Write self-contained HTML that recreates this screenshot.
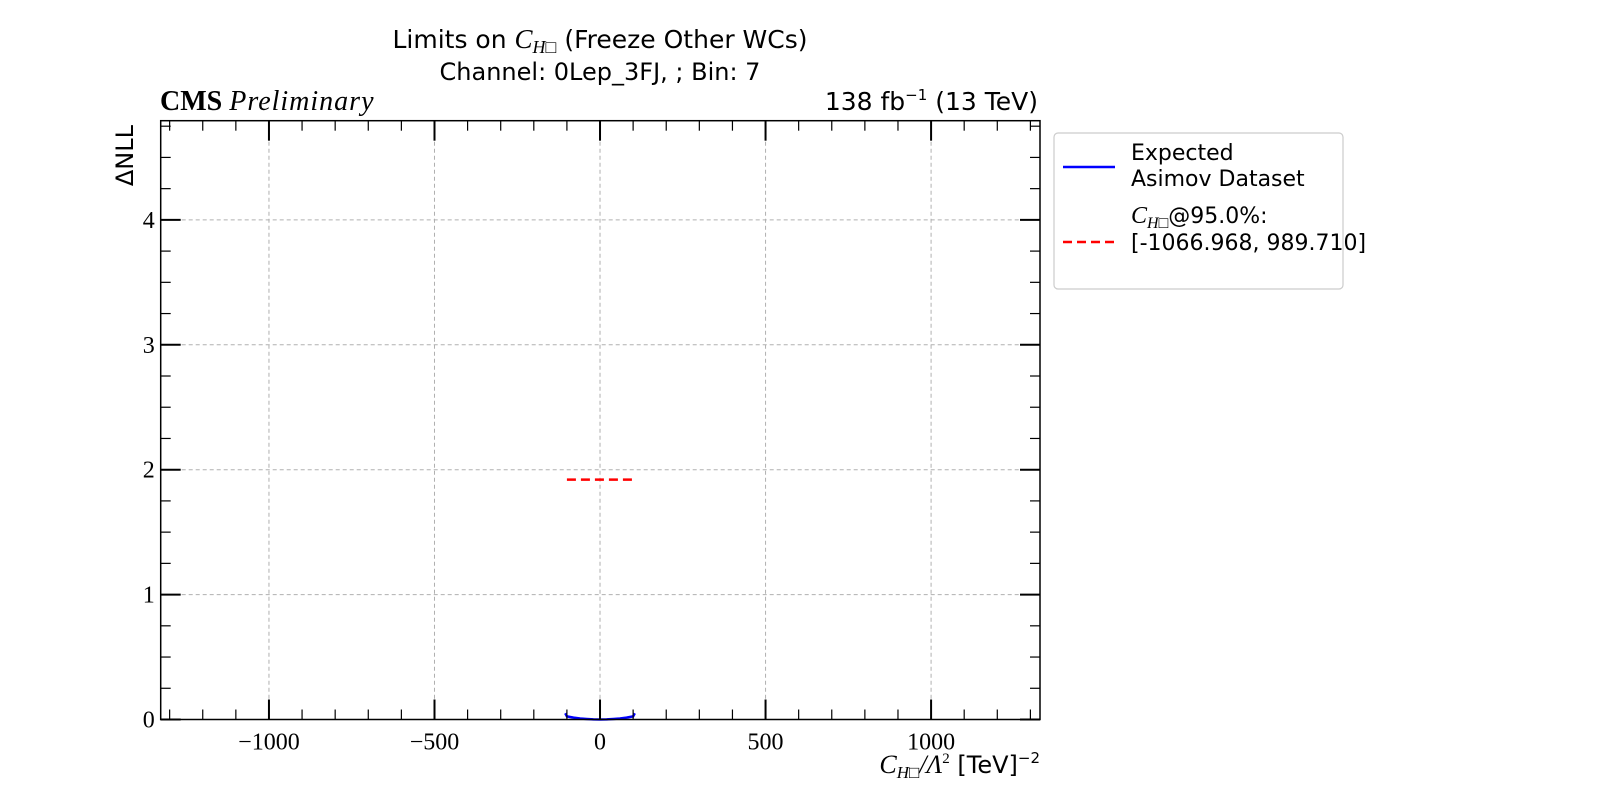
<!DOCTYPE html>
<html><head><meta charset="utf-8"><style>
html,body{margin:0;padding:0;background:#fff;}
svg{display:block;}
.sans{font-family:"DejaVu Sans","Liberation Sans",sans-serif;}
.serif{font-family:"Liberation Serif","DejaVu Serif",serif;}
</style></head><body>
<svg id="chart" width="1600" height="800" xmlns="http://www.w3.org/2000/svg">
<g id="grid"></g>
<g id="marks"></g>
<g id="axes"></g>
<text x="600" y="48" text-anchor="middle" font-size="25" class="sans">Limits on <tspan class="serif" font-style="italic" font-size="27">C</tspan><tspan class="serif" font-style="italic" font-size="18" dy="5">H□</tspan><tspan dy="-5"> (Freeze Other WCs)</tspan></text>
<text x="600" y="80" text-anchor="middle" font-size="24" class="sans">Channel: 0Lep_3FJ, ; Bin: 7</text>
<text x="160" y="110" font-size="28" class="serif"><tspan font-weight="bold">CMS</tspan> <tspan font-style="italic" letter-spacing="1">Preliminary</tspan></text>
<text x="1038" y="110" text-anchor="end" font-size="25" class="sans">138 fb<tspan font-size="15" dy="-10">−1</tspan><tspan dy="10"> (13 TeV)</tspan></text>
<text transform="translate(133,125) rotate(-90)" text-anchor="end" font-size="24" class="sans">ΔNLL</text>
<text x="1040" y="773" text-anchor="end" font-size="24" class="sans"><tspan class="serif" font-style="italic" font-size="26">C</tspan><tspan class="serif" font-style="italic" font-size="17" dy="5">H□</tspan><tspan class="serif" font-style="italic" font-size="26" dy="-5">/Λ</tspan><tspan class="serif" font-size="15" dy="-10">2</tspan><tspan dy="10"> [TeV]</tspan><tspan font-size="15" dy="-10">−2</tspan></text>
<g>
<rect x="1054" y="133" width="289" height="156" rx="4" fill="#fff" stroke="#ccc" stroke-width="1.2"/>
<line x1="1063" y1="167" x2="1115" y2="167" stroke="#0000ff" stroke-width="2.5"/>
<text x="1131" y="160" font-size="22" class="sans">Expected</text>
<text x="1131" y="186" font-size="22" class="sans">Asimov Dataset</text>
<line x1="1063" y1="242" x2="1115" y2="242" stroke="#ff0000" stroke-width="2.5" stroke-dasharray="9,5"/>
<text x="1131" y="223" font-size="22" class="sans"><tspan class="serif" font-style="italic" font-size="24">C</tspan><tspan class="serif" font-style="italic" font-size="16" dy="5">H□</tspan><tspan dy="-5">@95.0%:</tspan></text>
<text x="1131" y="250" font-size="22" class="sans">[-1066.968, 989.710]</text>
</g>
</svg>
<script>
const xTicks = [-1000, -500, 0, 500, 1000];
const yTicks = [0, 1, 2, 3, 4];
const curveX = [-105, -100, -80, -60, -40, -20, 0, 20, 40, 60, 80, 100, 105];
const curveY = [0.05, 0.025, 0.015, 0.008, 0.004, 0.001, 0, 0.001, 0.004, 0.008, 0.015, 0.025, 0.05];
const limitX = [-100, 105];
const limitY = 1.92;
const X0=160.7, X1=1040, Y0=719.5, Y1=120.7, XMIN=-1327, XMAX=1329, YMIN=0, YMAX=4.794;
function sx(v){return X0+(v-XMIN)/(XMAX-XMIN)*(X1-X0);}
function sy(v){return Y0-(v-YMIN)/(YMAX-YMIN)*(Y0-Y1);}
const NS="http://www.w3.org/2000/svg";
function mk(tag,attrs,parent){const e=document.createElementNS(NS,tag);for(const k in attrs)e.setAttribute(k,attrs[k]);parent.appendChild(e);return e;}
const grid=document.getElementById('grid'),marks=document.getElementById('marks'),axes=document.getElementById('axes');
xTicks.forEach(t=>{const l=mk('line',{x1:sx(t),x2:sx(t),y1:Y1,y2:Y0,stroke:'#b0b0b0','stroke-width':1,'stroke-dasharray':'4,3'},grid);

});
yTicks.forEach(t=>{const l=mk('line',{x1:X0,x2:X1,y1:sy(t),y2:sy(t),stroke:'#b0b0b0','stroke-width':1,'stroke-dasharray':'4,3'},grid);

});
const rl=mk('line',{x1:sx(limitX[0]),x2:sx(limitX[1]),y1:sy(limitY),y2:sy(limitY),stroke:'#ff0000','stroke-width':2.5,'stroke-dasharray':'9,5'},marks);


const pts=curveX.map((x,i)=>sx(x)+','+sy(curveY[i])).join(' ');
const pl=mk('polyline',{points:pts,fill:'none',stroke:'#0000ff','stroke-width':2.5},marks);


const fr=mk('rect',{x:X0,y:Y1,width:X1-X0,height:Y0-Y1,fill:'none',stroke:'#000','stroke-width':1.5},axes);


for(let v=-1300;v<=1300;v+=100){const major=v%500===0;const L=major?20:10;
const a=mk('line',{x1:sx(v),x2:sx(v),y1:Y0,y2:Y0-L,stroke:'#000','stroke-width':major?2:1.2},axes);


const b=mk('line',{x1:sx(v),x2:sx(v),y1:Y1,y2:Y1+L,stroke:'#000','stroke-width':major?2:1.2},axes);

}
for(let k=0;k<=19;k++){const v=k*0.25;const major=k%4===0;const L=major?20:10;
const a=mk('line',{x1:X0,x2:X0+L,y1:sy(v),y2:sy(v),stroke:'#000','stroke-width':major?2:1.2},axes);


const b=mk('line',{x1:X1,x2:X1-L,y1:sy(v),y2:sy(v),stroke:'#000','stroke-width':major?2:1.2},axes);

}
xTicks.forEach(t=>{const tx=mk('text',{x:sx(t),y:Y0+30,'text-anchor':'middle','font-size':24,class:'serif'},axes);
tx.textContent=t<0?'−'+Math.abs(t):String(t);

});
yTicks.forEach(t=>{const tx=mk('text',{x:X0-6,y:sy(t)+8,'text-anchor':'end','font-size':24,class:'serif'},axes);
tx.textContent=String(t);

});
</script>
</body></html>
